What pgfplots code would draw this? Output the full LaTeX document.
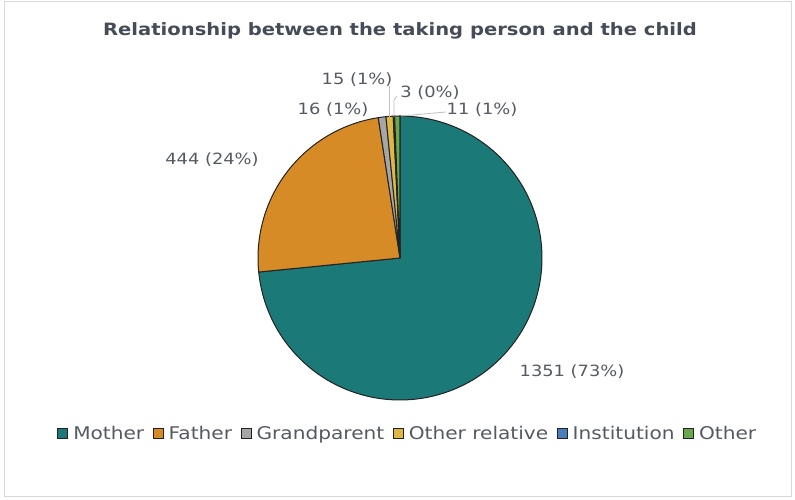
\documentclass[border=0pt]{standalone}
\usepackage{pgfplots}
\pgfplotsset{compat=1.18}
\usepackage{pgfplotstable}
\usepackage{fontspec}
\setmainfont{DejaVu Sans}[FakeStretch=1.15]
\definecolor{cMother}{HTML}{1B7A77}
\definecolor{cFather}{HTML}{D68B27}
\definecolor{cGrand}{HTML}{A6A6A6}
\definecolor{cRel}{HTML}{DEB744}
\definecolor{cInst}{HTML}{4A7EBB}
\definecolor{cOther}{HTML}{6AA84F}
\definecolor{edge}{HTML}{222222}
\definecolor{lbl}{HTML}{555A62}
\definecolor{ttl}{HTML}{454C58}
\definecolor{frame}{HTML}{D9D9D9}
\definecolor{lead}{HTML}{BFBFBF}

\pgfplotstableread{
name value
Mother 1351
Father 444
Grandparent 16
Otherrelative 15
Institution 3
Other 11
}\piedata
\pgfplotstablegetelem{0}{value}\of\piedata \let\vA\pgfplotsretval
\pgfplotstablegetelem{1}{value}\of\piedata \let\vB\pgfplotsretval
\pgfplotstablegetelem{2}{value}\of\piedata \let\vC\pgfplotsretval
\pgfplotstablegetelem{3}{value}\of\piedata \let\vD\pgfplotsretval
\pgfplotstablegetelem{4}{value}\of\piedata \let\vE\pgfplotsretval
\pgfplotstablegetelem{5}{value}\of\piedata \let\vF\pgfplotsretval
\pgfmathsetmacro\tot{\vA+\vB+\vC+\vD+\vE+\vF}
\pgfmathsetmacro\aA{90}
\pgfmathsetmacro\aB{\aA-360*(\vA/\tot)}
\pgfmathsetmacro\aC{\aB-360*(\vB/\tot)}
\pgfmathsetmacro\aD{\aC-360*(\vC/\tot)}
\pgfmathsetmacro\aE{\aD-360*(\vD/\tot)}
\pgfmathsetmacro\aF{\aE-360*(\vE/\tot)}
\pgfmathsetmacro\aG{\aF-360*(\vF/\tot)}

\begin{document}
\begin{tikzpicture}
\begin{axis}[
  name=ax,
  width=795pt, height=500pt, scale only axis,
  xmin=0, xmax=795, ymin=0, ymax=500,
  hide axis, clip=false,
  legend columns=6,
  legend style={at={(axis cs:408,66)}, anchor=center, draw=none, fill=none,
    font=\fontsize{17.5}{20}\selectfont\color{lbl},
    /tikz/every odd column/.append style={column sep=2.5pt},
    /tikz/every even column/.append style={column sep=6pt},
    inner sep=0pt, nodes={inner ysep=2.5pt, inner xsep=2.5pt}},
  legend image code/.code={\draw[#1, draw=edge, line width=1pt] (0pt,-5pt) rectangle (10pt,5pt);},
]
% frame
\addplot[frame, line width=1pt, forget plot] coordinates {(4,3) (791,3) (791,498) (4,498) (4,3)};
% slices
\addplot[fill=cMother, draw=edge, line width=1pt, domain=\aB:\aA, samples=150] ({400+142*cos(x)},{242+142*sin(x)}) -- (axis cs:400,242) -- cycle;
\addlegendentry{Mother}
\addplot[fill=cFather, draw=edge, line width=1pt, domain=\aC:\aB, samples=60] ({400+142*cos(x)},{242+142*sin(x)}) -- (axis cs:400,242) -- cycle;
\addlegendentry{Father}
\addplot[fill=cGrand, draw=edge, line width=1pt, domain=\aD:\aC, samples=5] ({400+142*cos(x)},{242+142*sin(x)}) -- (axis cs:400,242) -- cycle;
\addlegendentry{Grandparent}
\addplot[fill=cRel, draw=edge, line width=1pt, domain=\aE:\aD, samples=5] ({400+142*cos(x)},{242+142*sin(x)}) -- (axis cs:400,242) -- cycle;
\addlegendentry{Other relative}
\addplot[fill=cInst, draw=edge, line width=1pt, domain=\aF:\aE, samples=3] ({400+142*cos(x)},{242+142*sin(x)}) -- (axis cs:400,242) -- cycle;
\addlegendentry{Institution}
\addplot[fill=cOther, draw=edge, line width=1pt, domain=\aG:\aF, samples=5] ({400+142*cos(x)},{242+142*sin(x)}) -- (axis cs:400,242) -- cycle;
\addlegendentry{Other}
% leader lines
\addplot[lead, line width=0.8pt, forget plot] coordinates {(389.5,414) (389.5,383)};
\addplot[lead, line width=0.8pt, forget plot] coordinates {(397,404) (394,400) (394,383)};
\addplot[lead, line width=0.8pt, forget plot] coordinates {(446,388) (401,384)};
% labels
\node[font=\fontsize{17}{20}\bfseries\selectfont, text=ttl] at (axis cs:400,469) {Relationship between the taking person and the child};
\begin{scope}[every node/.style={font=\fontsize{15.5}{18}\selectfont, text=lbl, inner sep=0pt}]
\node at (axis cs:572,128) {1351 (73\%)};
\node at (axis cs:212,340) {444 (24\%)};
\node at (axis cs:333,390) {16 (1\%)};
\node at (axis cs:357,420) {15 (1\%)};
\node at (axis cs:430,407) {3 (0\%)};
\node at (axis cs:482,390) {11 (1\%)};
\end{scope}
\end{axis}
\pgfresetboundingbox
\path (ax.south west) rectangle (ax.north east);
\end{tikzpicture}
\end{document}
